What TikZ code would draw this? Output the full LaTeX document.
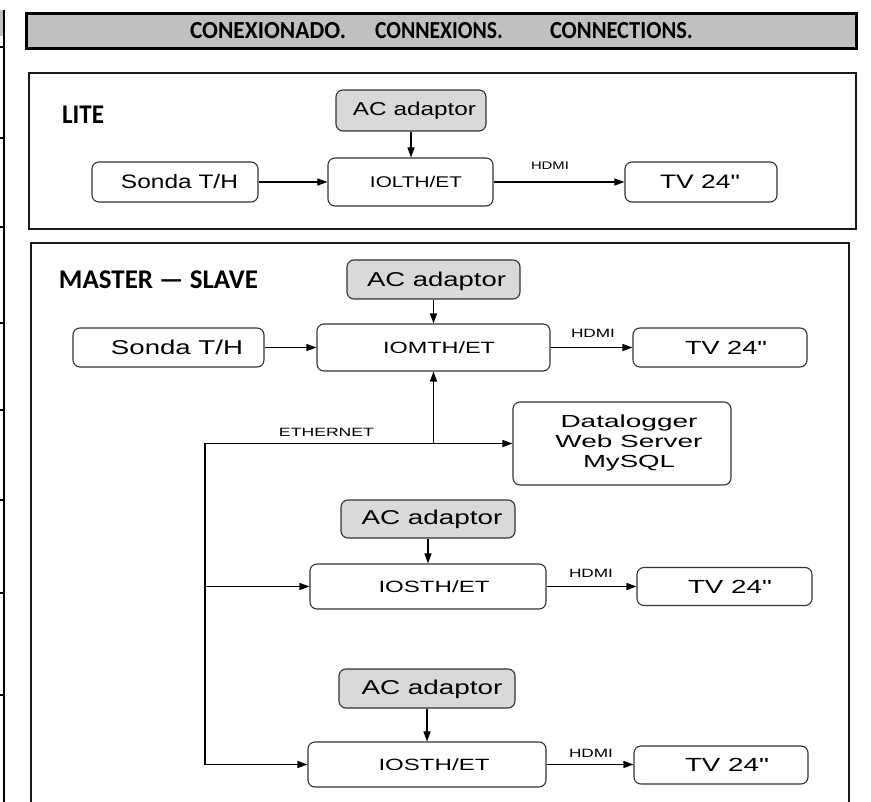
\documentclass[tikz,border=0pt]{standalone}
\usepackage{fontspec}
\setmainfont{Liberation Sans}
\newfontfamily\calfont{Carlito}
\usetikzlibrary{arrows.meta}
\definecolor{acgray}{HTML}{D9D9D9}
\definecolor{hdrgray}{HTML}{C0C0C0}
\newcommand\fw[3]{\resizebox{#1pt}{\height}{\fontsize{#2pt}{#2pt}\selectfont #3}}
\newcommand\tvtxt{TV 24\textquotedbl}
\tikzset{
  box/.style={draw=black!80, line width=1.1pt, rounded corners=7pt, fill=white, inner sep=0pt},
  acbox/.style={box, fill=acgray},
  lbl/.style={inner sep=0pt, text=black},
  conn/.style={draw=black, line width=1.2pt},
  arr/.style={conn, -{Triangle[length=10pt,width=7pt]}},
  frame/.style={draw=black!90, line width=2pt},
}
\begin{document}
\begin{tikzpicture}[x=1pt,y=-1pt]
\useasboundingbox (0,0) rectangle (871,802);
% left strip (cut-off table)
\fill[hdrgray] (0,10) rectangle (4,36);
\draw[line width=2.5pt] (4,10) -- (4,802);
\foreach \yy in {47,138,227,323,410,500,593,695} \draw[line width=2.2pt] (0,\yy) -- (4,\yy);
% header
\node[draw=black, line width=3.5pt, fill=hdrgray, minimum width=830pt, minimum height=35pt, inner sep=0pt] (hdr) at (441.5,31) {};
\node[lbl, font=\calfont\bfseries] (h1) at (268,31) {\fw{156}{24.5}{CONEXIONADO.}};
\node[lbl, font=\calfont\bfseries] (h2) at (439,31) {\fw{128}{24.5}{CONNEXIONS.}};
\node[lbl, font=\calfont\bfseries] (h3) at (621.5,31) {\fw{143}{24.5}{CONNECTIONS.}};
% LITE frame
\node[frame, minimum width=827pt, minimum height=156pt, inner sep=0pt] (lite) at (442.5,151) {};
\node[lbl, font=\calfont\bfseries] (litet) at (83,115) {\fw{42}{27}{LITE}};
\node[acbox, minimum width=150pt, minimum height=41pt] (lac) at (411,110.5) {};
\node[lbl] (lact) at (414.5,111) {\fw{123}{18.6}{AC adaptor}};
\node[box, minimum width=166pt, minimum height=40pt] (lsonda) at (175,182) {};
\node[lbl] (lsondat) at (179.5,182) {\fw{117}{19.5}{Sonda T/H}};
\node[box, minimum width=165pt, minimum height=48pt] (lio) at (410.5,182) {};
\node[lbl] (liot) at (416,182) {\fw{92}{15.5}{IOLTH/ET}};
\node[box, minimum width=152pt, minimum height=40pt] (ltv) at (701,182) {};
\node[lbl] (ltvt) at (700,182) {\fw{80}{19.5}{\tvtxt}};
\node[lbl] (lhdmi) at (550,166) {\fw{38}{11}{HDMI}};
\draw[arr] (lac.south) -- (lac.south |- lio.north);
\draw[arr] (lsonda.east) -- (lio.west);
\draw[arr] (lio.east) -- (ltv.west);
% MASTER frame
\draw[frame] (31,805) -- (31,243) -- (849,243) -- (849,805);
\node[lbl, font=\calfont\bfseries] (mst) at (158.5,280) {\fw{199}{27}{MASTER — SLAVE}};
\node[acbox, minimum width=173pt, minimum height=39pt] (mac) at (433.5,279.5) {};
\node[lbl] (mact) at (436.5,281) {\fw{139}{20}{AC adaptor}};
\node[box, minimum width=191pt, minimum height=39pt] (msonda) at (168.5,347.5) {};
\node[lbl] (msondat) at (177,347.5) {\fw{132}{20}{Sonda T/H}};
\node[box, minimum width=233pt, minimum height=47pt] (mio) at (433.5,347.5) {};
\node[lbl] (miot) at (439,348) {\fw{112}{16.3}{IOMTH/ET}};
\node[box, minimum width=174pt, minimum height=39pt] (mtv) at (720,347.5) {};
\node[lbl] (mtvt) at (726,347.5) {\fw{82}{19}{\tvtxt}};
\node[lbl] (mhdmi) at (593,333) {\fw{44}{12}{HDMI}};
\node[box, minimum width=218pt, minimum height=83pt] (dl) at (622,443.5) {};
\node[lbl, align=center, font=\fontsize{18pt}{20pt}\selectfont] (dlt) at (629,443) {\fw{137}{17.5}{Datalogger}\\\fw{147}{17.5}{Web Server}\\\fw{92}{17.5}{MySQL}};
\node[lbl] (eth) at (326.5,432) {\fw{95}{12}{ETHERNET}};
\draw[arr] (mac.south) -- (mac.south |- mio.north);
\draw[arr] (msonda.east) -- (mio.west);
\draw[arr] (mio.east) -- (mtv.west);
% slave 1
\node[acbox, minimum width=174pt, minimum height=38pt] (sac1) at (428,519) {};
\node[lbl] (sac1t) at (432,519) {\fw{141}{20}{AC adaptor}};
\node[box, minimum width=236pt, minimum height=45pt] (s1) at (428,586.5) {};
\node[lbl] (s1t) at (434,587) {\fw{111}{16.3}{IOSTH/ET}};
\node[box, minimum width=175pt, minimum height=38pt] (tv2) at (724.5,586.5) {};
\node[lbl] (tv2t) at (730,587) {\fw{84}{19}{\tvtxt}};
\node[lbl] (hdmi2) at (591,573) {\fw{44}{12}{HDMI}};
\draw[arr] (sac1.south) -- (sac1.south |- s1.north);
\draw[arr] (s1.east) -- (tv2.west);
% slave 2
\node[acbox, minimum width=176pt, minimum height=39pt] (sac2) at (427,688.5) {};
\node[lbl] (sac2t) at (432,689) {\fw{141}{20}{AC adaptor}};
\node[box, minimum width=238pt, minimum height=45pt] (s2) at (427,764.5) {};
\node[lbl] (s2t) at (434,764.5) {\fw{111}{16.3}{IOSTH/ET}};
\node[box, minimum width=174pt, minimum height=38pt] (tv3) at (721,765) {};
\node[lbl] (tv3t) at (727,765) {\fw{84}{19}{\tvtxt}};
\node[lbl] (hdmi3) at (591,753) {\fw{44}{12}{HDMI}};
\draw[arr] (sac2.south) -- (sac2.south |- s2.north);
\draw[arr] (s2.east) -- (s2.east -| tv3.west);
% ethernet bus
\coordinate (jn) at (mio.south |- dl.west);
\coordinate (eL) at (205,443.5);
\draw[conn] (eL) -- (jn);
\draw[arr] (jn) -- (mio.south);
\draw[arr] (jn) -- (dl.west);
\draw[arr] (eL) |- (s2.west);
\draw[arr] (eL |- s1.west) -- (s1.west);
\end{tikzpicture}
\end{document}
